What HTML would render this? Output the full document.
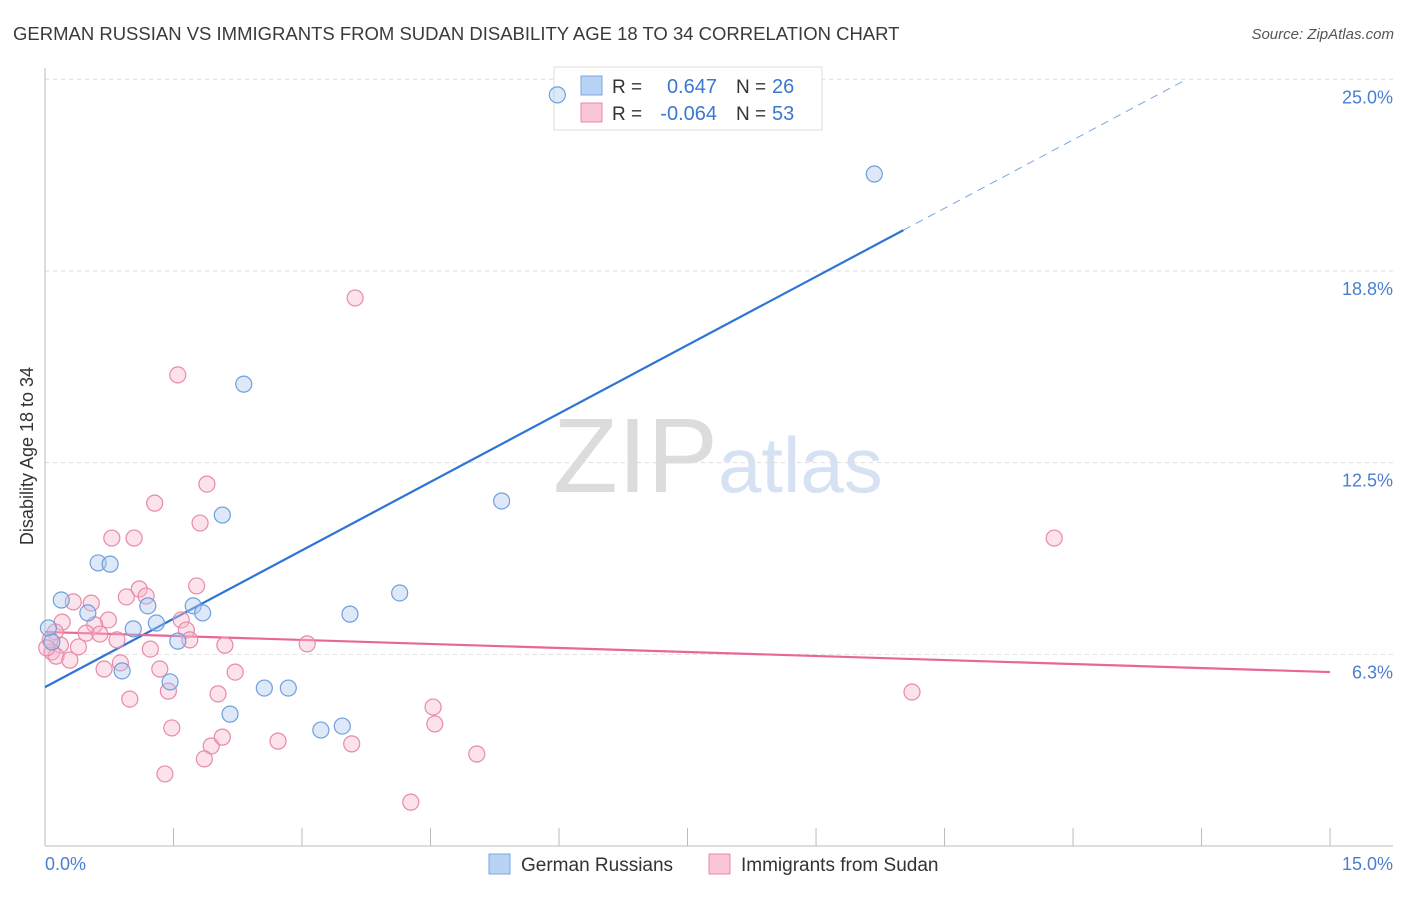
<!DOCTYPE html>
<html><head><meta charset="utf-8"><style>
body{margin:0;background:#fff;font-family:"Liberation Sans",sans-serif}
svg text{font-family:"Liberation Sans",sans-serif}
</style></head><body>
<svg id="chart" width="1406" height="892" xmlns="http://www.w3.org/2000/svg">
<text x="13" y="40" font-size="18.5" fill="#3a3a3a">GERMAN RUSSIAN VS IMMIGRANTS FROM SUDAN DISABILITY AGE 18 TO 34 CORRELATION CHART</text>
<text x="1394" y="39" font-size="15" fill="#555" text-anchor="end" font-style="italic">Source: ZipAtlas.com</text>
<g>
<text x="553" y="492" font-size="106" fill="#dcdcdc" font-family="Liberation Serif,serif">ZIP</text>
<text x="718" y="492" font-size="78" fill="#d6e2f3">atlas</text>
</g>
<g id="grid"></g>
<g id="axes"></g>
<g>
<rect x="554" y="67" width="268" height="63" fill="#fff" stroke="#ddd"/>
<rect x="581" y="76" width="21" height="19" fill="#b9d3f5" stroke="#7aa7e0"/>
<rect x="581" y="103" width="21" height="19" fill="#f9c6d6" stroke="#e88aa8"/>
<text x="612" y="93" font-size="19" fill="#333">R =</text>
<text x="717" y="93" font-size="20" fill="#3a78d0" text-anchor="end">0.647</text>
<text x="736" y="93" font-size="19" fill="#333">N =</text>
<text x="772" y="93" font-size="20" fill="#3a78d0">26</text>
<text x="612" y="120" font-size="19" fill="#333">R =</text>
<text x="717" y="120" font-size="20" fill="#3a78d0" text-anchor="end">-0.064</text>
<text x="736" y="120" font-size="19" fill="#333">N =</text>
<text x="772" y="120" font-size="20" fill="#3a78d0">53</text>
</g>
<g id="trend"></g>
<g id="pts"></g>
<g>
<rect x="489" y="854" width="21" height="20" fill="#b9d3f5" stroke="#7aa7e0"/>
<text x="521" y="871" font-size="19" fill="#333">German Russians</text>
<rect x="709" y="854" width="21" height="20" fill="#f9c6d6" stroke="#e88aa8"/>
<text x="741" y="871" font-size="19" fill="#333">Immigrants from Sudan</text>
</g>
</svg>
<script>
const blueX=[5.98,9.68,2.32,5.33,2.07,0.62,0.76,0.19,0.50,1.20,1.73,1.84,1.30,1.03,1.55,0.04,0.08,0.90,1.46,2.56,2.84,2.16,3.22,3.47,3.56,4.14];
const blueY=[24.49,21.91,15.06,11.25,10.79,9.23,9.19,8.02,7.60,7.83,7.83,7.60,7.27,7.08,6.68,7.11,6.65,5.71,5.35,5.15,5.15,4.30,3.78,3.91,7.56,8.25];
const pinkX=[3.62,1.55,1.89,1.28,1.81,0.78,1.04,11.78,1.77,1.10,0.95,1.18,0.33,0.54,0.74,1.59,0.58,1.65,0.48,0.64,0.84,1.69,2.10,3.06,1.23,0.18,0.39,0.08,0.13,0.29,0.88,0.69,1.34,2.22,2.02,1.44,10.12,0.99,4.53,1.48,4.55,1.94,2.07,2.72,3.58,1.86,5.04,1.40,4.27,0.20,0.12,0.06,0.02];
const pinkY=[17.87,15.36,11.80,11.18,10.53,10.04,10.04,10.04,8.48,8.38,8.12,8.15,7.96,7.92,7.37,7.37,7.21,7.04,6.94,6.91,6.72,6.72,6.55,6.59,6.42,6.55,6.49,6.33,6.19,6.06,5.97,5.77,5.77,5.67,4.96,5.05,5.02,4.79,4.53,3.85,3.98,3.26,3.55,3.42,3.33,2.84,3.00,2.35,1.43,7.30,6.98,6.72,6.46];
const blueTrend=[5.18,1.487]; // intercept, slope
const pinkTrend=[6.98,-0.0873];
const yTicks=[25.0,18.8,12.5,6.3];
const yTickVals=[25.0,18.75,12.5,6.25];
const NS="http://www.w3.org/2000/svg";
const X=v=>45+v*85.67, Y=v=>846-v*30.67;
function mk(p,t,a){const e=document.createElementNS(NS,t);for(const k in a)e.setAttribute(k,a[k]);document.getElementById(p).appendChild(e);return e;}
yTickVals.forEach((v,i)=>{
 const g=mk('grid','line',{x1:45,x2:1393,y1:Y(v),y2:Y(v),stroke:'#ddd','stroke-dasharray':'4,4'});
 
 
 const t=mk('axes','text',{x:1393,y:Y(v)+24,'font-size':18,fill:'#4a7fd0','text-anchor':'end'});
 t.textContent=yTicks[i].toFixed(1)+'%';
 
 
});
let a=mk('axes','line',{x1:45,x2:45,y1:68,y2:846,stroke:'#bbb'});

a=mk('axes','line',{x1:45,x2:1393,y1:846,y2:846,stroke:'#bbb'});

for(let i=0;i<=10;i++){const t=mk('axes','line',{x1:X(i*1.5),x2:X(i*1.5),y1:828,y2:846,stroke:'#bbb'});
 }
[['0.0%',45,'start'],['15.0%',1393,'end']].forEach(d=>{const t=mk('axes','text',{x:d[1],y:870,'font-size':18,fill:'#4a7fd0','text-anchor':d[2]});t.textContent=d[0];
 });
a=mk('axes','text',{x:0,y:0,'font-size':18,fill:'#333','text-anchor':'middle',transform:'translate(33,456) rotate(-90)'});
a.textContent='Disability Age 18 to 34';
function pts(xs,ys,fill,stroke,name){xs.forEach((x,i)=>{const c=mk('pts','circle',{cx:X(x),cy:Y(ys[i]),r:8,fill:fill,'fill-opacity':0.4,stroke:stroke,'stroke-width':1.2});
 });}
pts(pinkX,pinkY,'#f7b6ca','#e88aa8','sudan-point');
pts(blueX,blueY,'#a9c8ef','#6f9fdc','german-russian-point');
let l=mk('trend','line',{x1:X(0),y1:Y(blueTrend[0]),x2:X(10.02),y2:Y(blueTrend[0]+blueTrend[1]*10.02),stroke:'#2f74d4','stroke-width':2.2});

l=mk('trend','line',{x1:X(10.02),y1:Y(blueTrend[0]+blueTrend[1]*10.02),x2:X(13.31),y2:Y(blueTrend[0]+blueTrend[1]*13.31),stroke:'#7aa7e0','stroke-width':1,'stroke-dasharray':'8,6'});

l=mk('trend','line',{x1:X(0),y1:Y(pinkTrend[0]),x2:X(15),y2:Y(pinkTrend[0]+pinkTrend[1]*15),stroke:'#e8679a','stroke-width':2.2});

</script>
</body></html>
